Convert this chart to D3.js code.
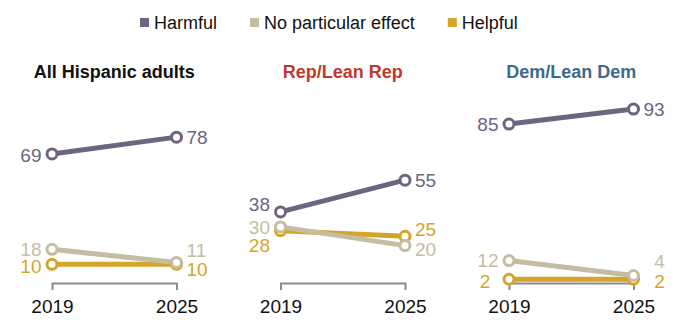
<!DOCTYPE html>
<html lang="en">
<head>
<meta charset="utf-8">
<title>Hispanic adults views, 2019 vs 2025</title>
<script src="https://d3js.org/d3.v7.min.js"></script>
<style>
  body {
    margin: 0;
    background: #fff;
    font-family: "Liberation Sans", Arial, sans-serif;
  }
  .legend text { font-size: 18px; fill: #111; }
  .title { font-size: 18px; font-weight: bold; text-anchor: middle; }
  .num { font-size: 19px; }
  .axis path.domain { stroke: #8c8c8c; stroke-width: 2; }
  .axis .tick text { font-size: 19px; fill: #111; font-family: "Liberation Sans", Arial, sans-serif; }
</style>
</head>
<body>
<div id="vis"></div>
<script>

/* Data */
/* ==== */

var years = ['2019', '2025'];
var seriesNames = ['Harmful', 'No particular effect', 'Helpful'];
var panelTitles = ['All Hispanic adults', 'Rep/Lean Rep', 'Dem/Lean Dem'];

// [2019, 2025] per panel
var harmful  = [[69, 78], [38, 55], [85, 93]];
var noEffect = [[18, 11], [30, 20], [12, 4]];
var helpful  = [[10, 10], [28, 25], [2, 2]];


/* Styles and layout */
/* ================= */

var seriesColors = ['#6e6480', '#c4bda2', '#d4a52a'];
var titleColors = ['#111111', '#bf3a2b', '#3e6a8a'];

// vertical nudges so that close labels do not collide: [panel][series][left,right]
var labelNudge = [
  [[1, 0], [0, -12], [2, 5]],
  [[-8, 0], [0, 4], [15, -7]],
  [[0, 0], [0, -14], [2, 2]]
];

var width = 700, height = 330;
var panelLeft = 52, panelStep = 228.5, panelWidth = 124.5;

var svg = d3.select('#vis').append('svg')
  .attr('width', width)
  .attr('height', height);

var x = d3.scalePoint().domain(years).range([0, panelWidth]);
var y = d3.scaleLinear().domain([0, 100]).range([283, 96]);

var allSeries = [harmful, noEffect, helpful];


/* Legend */
/* ------ */

var legend = svg.append('g').attr('class', 'legend');
var lx = 140;
seriesNames.forEach(function(name, i) {
  var g = legend.append('g').attr('transform', 'translate(' + lx + ',18)');
  g.append('rect')
    .attr('width', 9).attr('height', 9)
    .attr('fill', seriesColors[i]);
  var t = g.append('text')
    .attr('x', 14).attr('y', 4.5).attr('dy', '0.35em')
    .text(name);
  lx += 14 + t.node().getComputedTextLength() + 33;
});


/* Panels */
/* ------ */

panelTitles.forEach(function(title, p) {

  var g = svg.append('g')
    .attr('transform', 'translate(' + (panelLeft + p * panelStep) + ',0)');

  g.append('text')
    .attr('class', 'title')
    .attr('x', panelWidth / 2)
    .attr('y', 78)
    .attr('fill', titleColors[p])
    .text(title);

  // bracket axis
  g.append('g')
    .attr('class', 'axis')
    .attr('transform', 'translate(0,' + y(0) + ')')
    .call(d3.axisBottom(x).tickSizeInner(0).tickSizeOuter(7).tickPadding(16.5))
    .selectAll('.tick line').remove();

  // lines first, drawn bottom series first so beige sits over gold
  var order = [2, 1, 0];
  order.forEach(function(s) {
    var vals = allSeries[s][p];
    g.append('path')
      .datum(vals)
      .attr('fill', 'none')
      .attr('stroke', seriesColors[s])
      .attr('stroke-width', 5)
      .attr('d', d3.line()
        .x(function(d, i) { return x(years[i]); })
        .y(function(d) { return y(d); }));
  });

  order.forEach(function(s) {
    var vals = allSeries[s][p];
    g.selectAll(null)
      .data(vals).enter()
      .append('circle')
        .attr('cx', function(d, i) { return x(years[i]); })
        .attr('cy', function(d) { return y(d); })
        .attr('r', 5)
        .attr('fill', '#fff')
        .attr('stroke', seriesColors[s])
        .attr('stroke-width', 3);
  });

  // value labels; single digits sit centred in a two-digit slot
  [0, 1, 2].forEach(function(s) {
    var vals = allSeries[s][p];
    g.selectAll(null)
      .data(vals).enter()
      .append('text')
        .attr('class', 'num')
        .attr('x', function(d, i) {
          if (d < 10) return x(years[i]) + (i === 0 ? -24 : 26);
          return x(years[i]) + (i === 0 ? -10.5 : 10);
        })
        .attr('y', function(d, i) { return y(d) + labelNudge[p][s][i]; })
        .attr('dy', '0.35em')
        .attr('text-anchor', function(d, i) {
          if (d < 10) return 'middle';
          return i === 0 ? 'end' : 'start';
        })
        .attr('fill', seriesColors[s])
        .text(function(d) { return d; });
  });

});

</script>
</body>
</html>
